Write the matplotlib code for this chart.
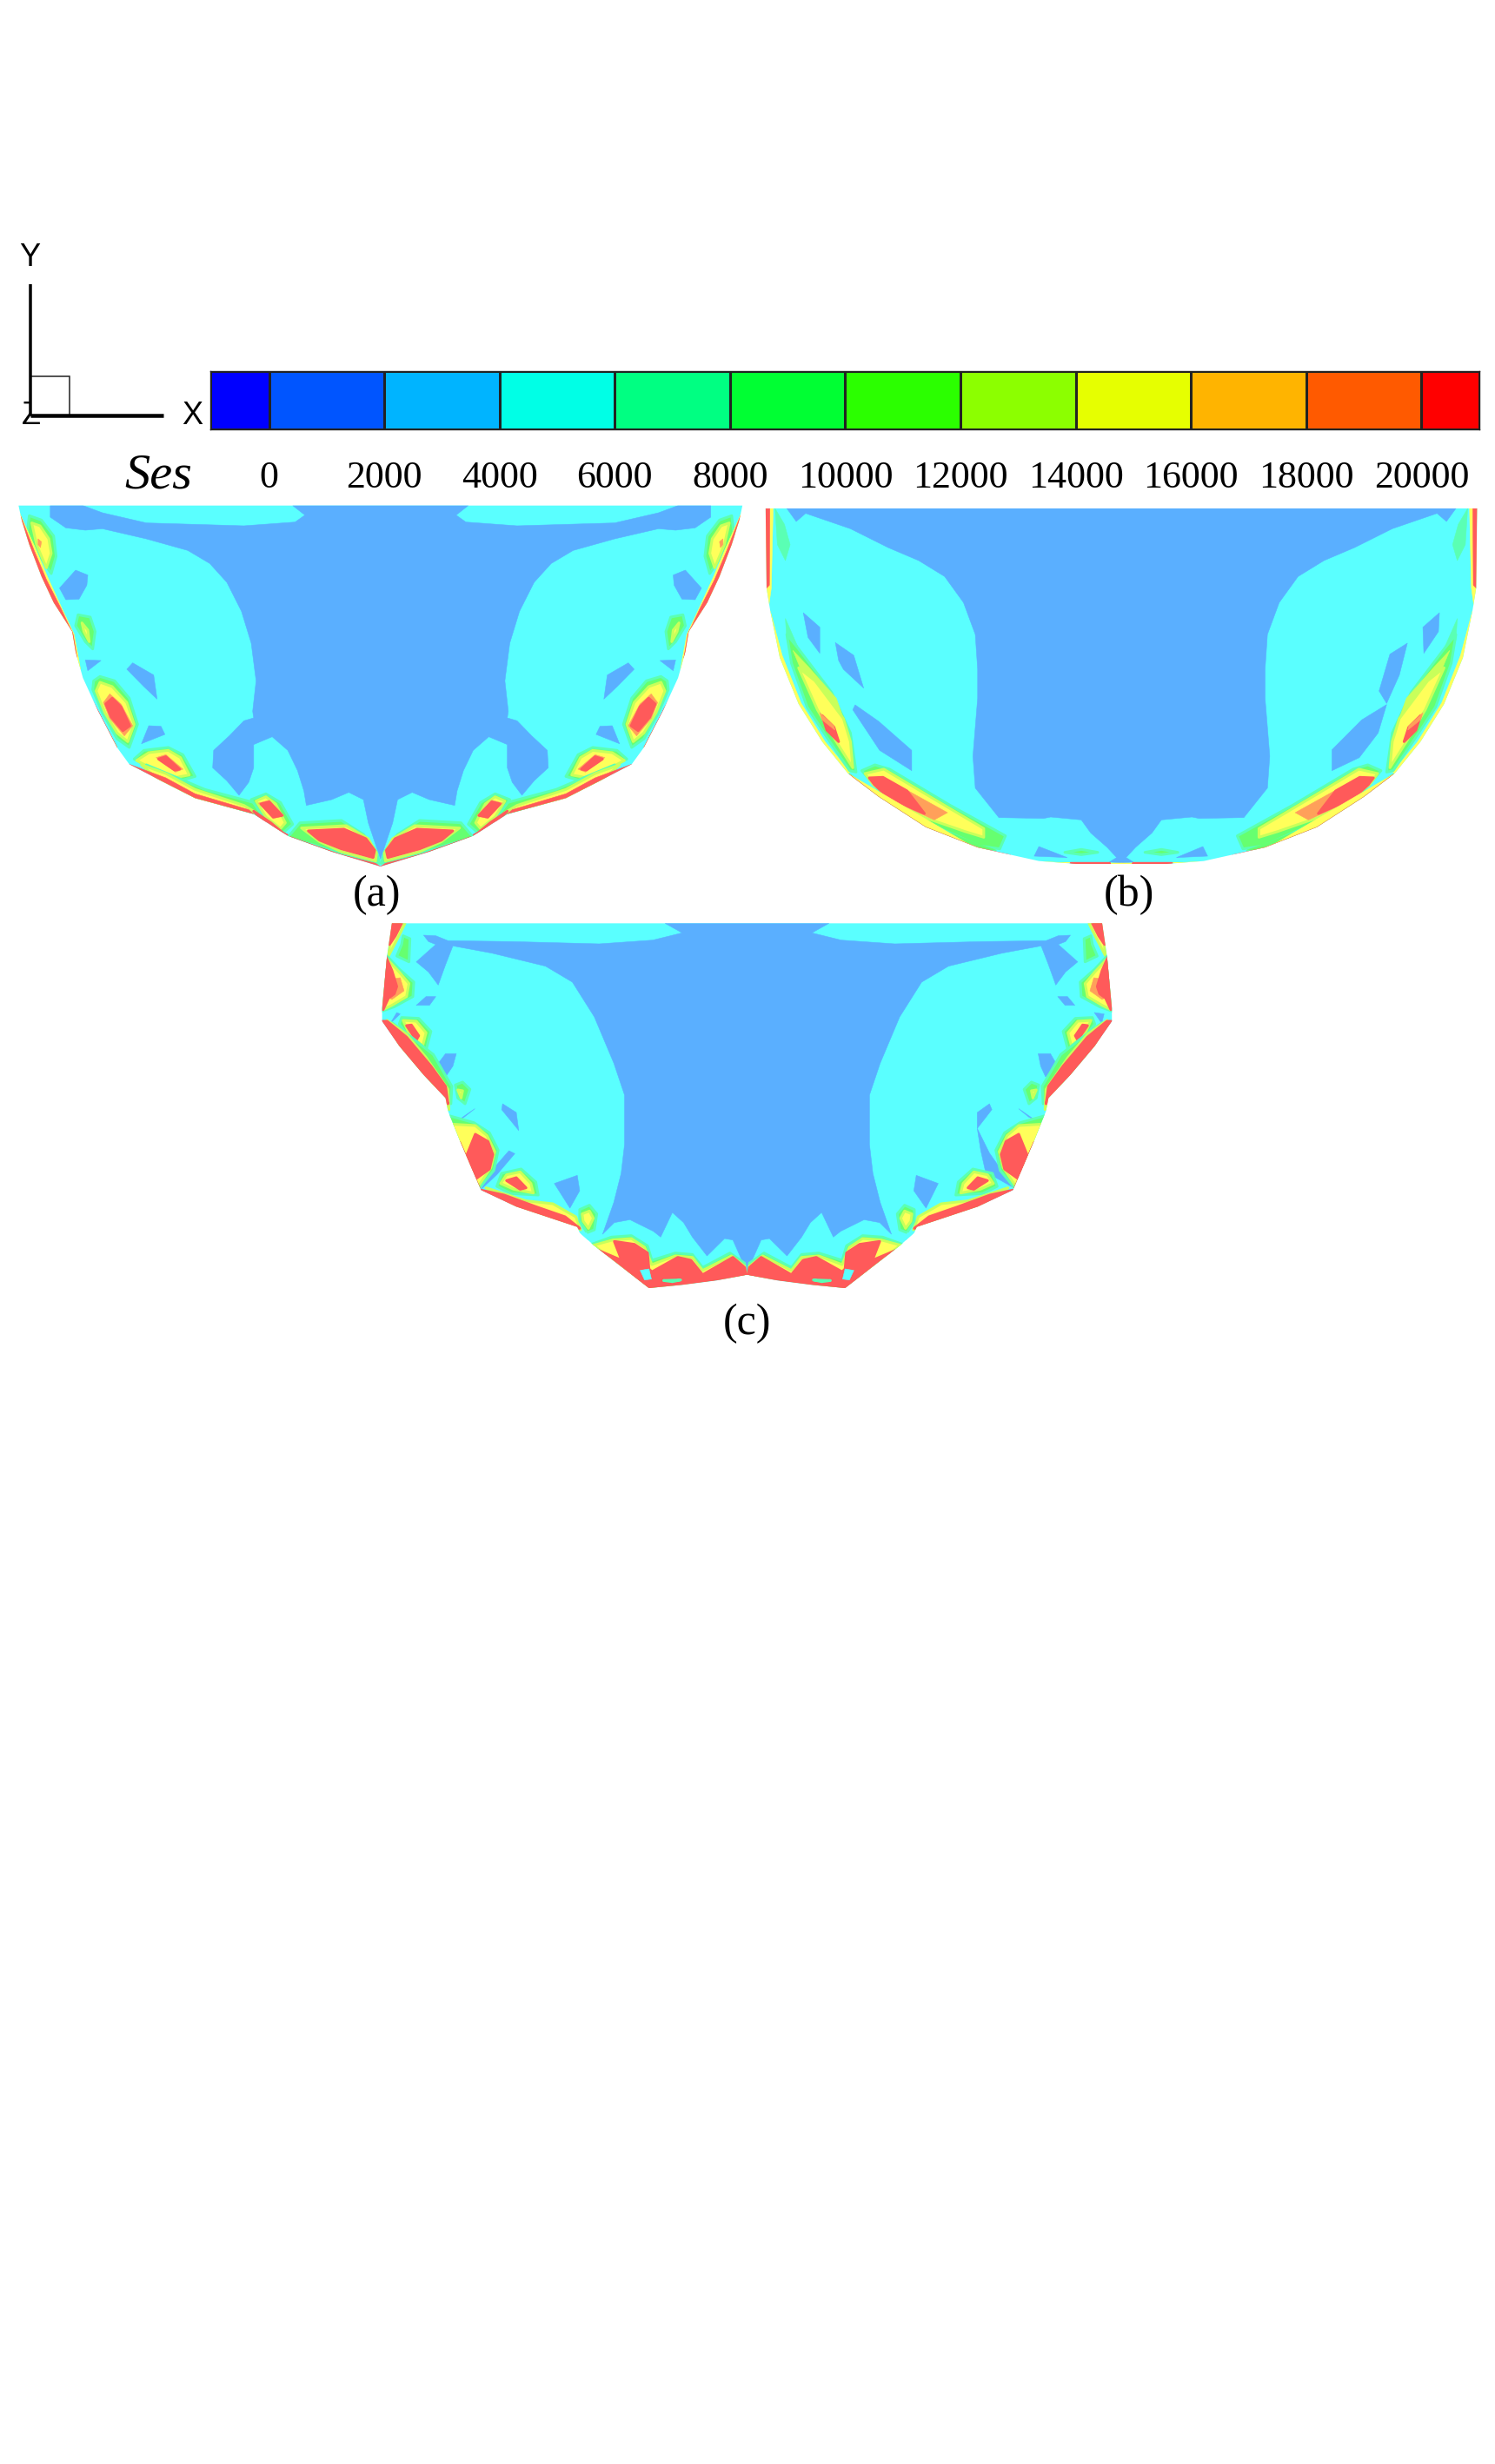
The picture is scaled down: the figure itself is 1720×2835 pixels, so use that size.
import matplotlib
matplotlib.use("Agg")
import matplotlib.pyplot as plt
import numpy as np
from matplotlib.colors import ListedColormap, BoundaryNorm
from matplotlib.patches import Polygon, Rectangle

W, H = 1720, 2835
plt.rcParams['font.family'] = ['Liberation Serif', 'DejaVu Serif']

# ---------- legend data ----------
LEVELS = [-1020, 0, 2000, 4000, 6000, 8000, 10000, 12000, 14000, 16000, 18000, 20000, 21005]
BAR_COLORS = ['#0000FF', '#0055FF', '#00B4FF', '#00FFE6', '#00FF82', '#00FF33',
              '#2BFF00', '#8CFF00', '#E6FF00', '#FFB400', '#FF5A00', '#FF0000']
FIELD_COLORS = ['#5A5AFF', '#5A90FF', '#5AAFFF', '#5AFFFF', '#5AFFB4', '#66FF70',
                '#7DFF5A', '#C8FF5A', '#FFFF5A', '#FFD25A', '#FFA05A', '#FF5A5A']
TICKS = [0, 2000, 4000, 6000, 8000, 10000, 12000, 14000, 16000, 18000, 20000]

# ---------- panel (a): left half, Ses bands in mesh coordinates ----------
A_CENTER = 780
A_OUTLINE = [(780,35),(38,35),(45,90),(60,170),(85,280),(110,370),(148,470),(155,540),(170,630),
             (200,740),(240,870),(265,928),(330,985),(400,1045),(520,1100),(590,1175),(680,1230),(780,1281)]
A_CORE = [(780,35),(600,35),(625,68),(605,92),(500,105),(300,95),(210,60),(170,35),(103,35),(103,75),
          (135,112),(175,120),(210,115),(300,150),(385,190),(430,235),(465,300),(495,400),(515,510),
          (525,640),(518,745),(520,768),(500,778),(470,830),(438,880),(436,940),(465,985),(490,1035),
          (510,990),(520,940),(520,860),(558,833),(590,880),(610,950),(623,1020),(628,1070),(680,1050),
          (715,1025),(745,1050),(755,1130),(780,1255)]
A_POCKETS = [[(155,258),(180,275),(178,310),(162,358),(135,360),(122,320)],
             [(175,568),(207,570),(180,605)],
             [(272,578),(315,620),(322,703),(295,660),(260,600)],
             [(305,795),(330,797),(338,825),(290,857)]]
A_BANDS = [
    (9000, [(60,70),(85,85),(110,140),(115,210),(105,270),(85,220),(55,140)]),
    (15000,[(65,95),(82,105),(100,150),(105,200),(95,250),(75,170)]),
    (19000,[(78,150),(85,160),(83,180),(78,170)]),
    (15000,[(40,60),(72,180),(97,280),(127,390),(152,480),(165,600),(155,600),(148,470),(110,370),(85,280),(60,170)]),
    (21000,[(42,70),(60,170),(85,280),(110,370),(148,470),(155,540),(158,560),(150,480),(125,390),(95,290),(70,190)]),
    (9000, [(160,412),(185,420),(195,470),(190,530),(175,505),(155,450)]),
    (15000,[(168,440),(180,465),(183,505),(172,470)]),
    (9000, [(205,625),(235,640),(265,700),(282,790),(265,870),(240,840),(210,750),(190,670),(192,640)]),
    (15000,[(205,645),(230,660),(260,715),(275,790),(262,850),(240,820),(215,750),(197,675)]),
    (19000,[(225,685),(248,720),(272,795),(255,830),(225,770),(212,715)]),
    (21000,[(230,700),(248,730),(266,795),(252,812),(228,765),(217,720)]),
    (15000,[(178,680),(240,870),(232,862),(192,745)]),
    (21000,[(178,670),(240,870),(200,740)]),
    (9000, [(275,910),(295,880),(345,870),(375,895),(400,970),(370,985),(330,960)]),
    (15000,[(280,915),(305,888),(345,880),(370,905),(388,965),(355,975),(320,950)]),
    (19000,[(320,905),(340,895),(375,945),(360,955)]),
    (21000,[(325,910),(340,902),(368,945),(358,948)]),
    (9000, [(300,930),(350,965),(420,1015),(520,1060),(540,1110),(400,1050),(330,990)]),
    (15000,[(290,930),(340,960),(400,1015),(500,1070),(525,1095),(400,1050),(330,990)]),
    (21000,[(265,928),(330,985),(400,1045),(520,1100),(510,1085),(400,1030),(340,975)]),
    (9000, [(515,1050),(545,1030),(575,1060),(600,1135),(580,1165),(545,1120)]),
    (15000,[(525,1055),(545,1040),(565,1065),(585,1130),(575,1150),(545,1110)]),
    (19000,[(530,1062),(552,1052),(582,1105),(560,1116)]),
    (21000,[(535,1065),(552,1058),(578,1105),(560,1110)]),
    (21000,[(520,1090),(555,1130),(580,1165),(590,1175),(555,1150)]),
    (9000, [(590,1180),(615,1130),(700,1122),(745,1170),(772,1230),(778,1270),(690,1230)]),
    (15000,[(618,1148),(710,1140),(755,1185),(772,1235),(770,1262),(700,1230),(655,1195)]),
    (21000,[(632,1158),(705,1152),(750,1185),(768,1225),(765,1250),(700,1220),(655,1190)]),
    (21000,[(595,1178),(680,1230),(780,1281),(770,1270),(700,1240),(640,1205)]),
]

# ---------- panel (b) ----------
B_CENTER = 775
B_OUTLINE = [(775,45),(20,45),(22,320),(30,400),(50,560),(90,720),(140,850),(195,960),(260,1040),
             (360,1145),(470,1215),(600,1262),(680,1272),(775,1272)]
B_CORE = [(775,45),(65,45),(85,90),(105,62),(200,115),(280,180),(345,225),(400,280),(440,370),(465,480),
          (470,600),(470,700),(460,900),(465,1010),(515,1112),(610,1115),(625,1110),(690,1120),(710,1165),
          (745,1215),(765,1250),(750,1265),(775,1270)]
B_POCKETS_LEFT = [[(100,405),(135,455),(135,545),(110,490)],
                  [(168,508),(207,552),(228,665),(185,600),(175,570)],
                  [(210,723),(260,780),(330,880),(330,950),(262,880),(205,740)],
                  [(600,1212),(660,1250),(590,1245)]]
B_POCKETS_RIGHT = [[(1450,405),(1415,455),(1417,545),(1448,470)],
                   [(1382,510),(1345,548),(1322,675),(1338,718),(1365,620)],
                   [(1338,722),(1285,775),(1222,878),(1222,950),(1280,905),(1320,820)],
                   [(948,1212),(892,1250),(958,1245)]]
B_BANDS = [
    (15000,[(20,45),(36,45),(32,320),(26,390),(22,320)]),
    (21000,[(20,45),(29,45),(28,310),(22,320)]),
    (7000, [(40,45),(60,100),(72,170),(62,225),(45,170)]),
    (15000,[(30,400),(50,560),(90,720),(140,850),(195,960),(199,955),(146,850),(95,716),(55,552)]),
    (7000, [(62,425),(85,510),(100,560),(80,570),(65,500)]),
    (9000, [(65,480),(90,530),(160,680),(200,820),(212,955),(198,950),(150,835),(108,730),(75,580)]),
    (13000,[(78,535),(110,590),(170,700),(196,820),(205,940),(170,850),(130,740)]),
    (15000,[(90,595),(125,640),(185,770),(200,850),(205,940),(170,850),(130,740)]),
    (21000,[(140,760),(165,800),(175,850),(150,810)]),
    (19000,[(135,750),(165,795),(167,810),(140,775)]),
    (9000, [(224,950),(252,930),(283,945),(412,1070),(529,1175),(517,1220),(474,1210),(363,1130),(264,1025)]),
    (15000,[(231,960),(271,945),(400,1070),(483,1150),(483,1180),(443,1160),(354,1110),(249,1000)]),
    (19000,[(240,975),(271,973),(406,1095),(378,1120),(351,1100),(283,1050),(249,1000)]),
    (21000,[(240,975),(269,973),(320,1020),(357,1098),(283,1045),(251,998)]),
    (9000, [(197,960),(262,1030),(365,1135),(475,1205),(510,1225),(470,1222),(360,1155),(260,1050)]),
    (15000,[(197,962),(260,1040),(360,1145),(470,1215),(560,1252),(600,1265),(680,1269),(775,1269),(775,1272),(600,1265),(470,1222)]),
    (21000,[(197,962),(260,1040),(360,1145),(470,1215),(540,1241),(470,1222),(360,1152),(258,1048)]),
    (9000, [(655,1232),(690,1222),(725,1232),(690,1240)]),
    (21000,[(668,1270),(750,1270),(745,1275),(670,1276)]),
]

# ---------- panel (c) ----------
C_CENTER = 783
C_OUTLINE = [(783,37),(55,37),(45,150),(35,330),(35,375),(70,460),(120,560),(165,640),(170,685),(195,790),
             (238,958),(310,1015),(435,1085),(440,1105),(470,1150),(582,1296),(650,1285),(720,1270),(783,1250)]
C_CORE = [(783,37),(615,37),(650,70),(590,95),(480,108),(300,100),(170,97),(145,80),(120,78),(130,100),
          (145,110),(105,170),(130,205),(150,250),(165,180),(180,115),(260,140),(370,185),(425,240),
          (470,360),(510,520),(532,630),(532,800),(525,900),(510,1000),(487,1110),(511,1070),(543,1060),
          (591,1100),(606,1120),(630,1035),(653,1070),(671,1120),(701,1185),(737,1125),(754,1130),(783,1240)]
C_POCKETS_LEFT = [[(125,290),(145,290),(132,320),(105,320)],
                  [(65,345),(72,350),(52,382)],
                  [(165,487),(187,487),(180,530),(165,567),(148,525)],
                  [(282,660),(310,690),(315,752),(280,680)],
                  [(190,718),(225,677),(200,710)],
                  [(295,822),(307,832),(270,905),(238,955),(265,880)],
                  [(435,907),(440,960),(420,1020),(388,935)]]
C_POCKETS_RIGHT = [[(1420,290),(1440,290),(1455,320),(1435,320)],
                   [(1495,345),(1515,350),(1510,382)],
                   [(1380,487),(1405,487),(1418,525),(1395,567),(1385,530)],
                   [(1280,660),(1255,690),(1255,745),(1285,680)],
                   [(1255,745),(1280,830),(1330,950),(1272,895),(1262,820)],
                   [(1340,677),(1375,718),(1360,705)],
                   [(1130,907),(1175,935),(1150,1020),(1125,960)]]
C_BANDS = [
    (9000, [(78,80),(92,90),(90,170),(65,150),(75,110)]),
    (15000,[(55,37),(82,37),(68,85),(48,150)]),
    (21000,[(55,37),(75,37),(62,80),(50,110)]),
    (9000, [(45,150),(70,195),(100,240),(98,290),(60,325),(35,340)]),
    (15000,[(45,160),(70,205),(90,245),(85,290),(55,320),(37,335)]),
    (19000,[(50,230),(72,225),(80,270),(55,300),(45,290)]),
    (21000,[(42,150),(55,200),(65,255),(60,280),(48,295),(37,335)]),
    (9000, [(75,362),(110,365),(135,410),(125,475),(95,440),(70,385)]),
    (15000,[(78,372),(105,375),(125,415),(118,460),(92,425)]),
    (21000,[(85,390),(95,388),(110,425),(105,440)]),
    (9000, [(55,380),(95,430),(140,490),(178,600),(176,660),(120,560),(70,460)]),
    (15000,[(45,372),(85,420),(125,500),(170,610),(172,680),(125,565),(70,460)]),
    (21000,[(35,375),(70,460),(120,560),(165,640),(170,660),(165,600),(135,530),(85,430),(45,375)]),
    (9000, [(185,595),(200,585),(215,610),(205,660),(190,640)]),
    (15000,[(190,612),(200,615),(197,640)]),
    (9000, [(170,700),(223,725),(255,760),(273,820),(264,890),(232,955),(190,800)]),
    (15000,[(175,730),(226,735),(250,770),(266,825),(258,880),(232,945),(205,860)]),
    (21000,[(226,765),(252,790),(262,835),(255,885),(226,920),(208,840)]),
    (21000,[(195,790),(238,958),(226,920),(208,840)]),
    (9000, [(270,945),(280,900),(320,885),(350,930),(355,975),(300,970)]),
    (15000,[(278,935),(290,905),(318,895),(340,935),(345,968),(305,955)]),
    (21000,[(290,925),(310,915),(330,950),(318,955)]),
    (15000,[(248,950),(330,995),(385,1005),(432,1050),(442,1095),(435,1085),(310,1015)]),
    (21000,[(238,958),(310,1015),(435,1085),(440,1090),(410,1050),(350,1015),(285,975)]),
    (9000, [(440,1025),(460,1010),(475,1040),(470,1095),(455,1105),(440,1065)]),
    (15000,[(445,1040),(460,1030),(468,1055),(458,1090),(447,1065)]),
    (9000, [(456,1150),(505,1120),(546,1115),(579,1150),(588,1200),(636,1175),(671,1180),(692,1225),
            (748,1175),(778,1210),(781,1250),(783,1250),(582,1296),(470,1150)]),
    (15000,[(460,1152),(508,1130),(546,1125),(573,1155),(588,1215),(636,1185),(671,1190),(692,1235),
            (751,1185),(778,1220),(781,1250),(783,1250),(582,1296),(470,1150)]),
    (21000,[(463,1155),(526,1200),(511,1135),(552,1145),(579,1175),(582,1230),(588,1240),(641,1190),
            (668,1200),(692,1250),(754,1190),(778,1225),(781,1250),(783,1252),(582,1297)]),
    (5000, [(564,1235),(582,1230),(587,1265),(573,1268)]),
    (5000, [(441,1110),(454,1105),(460,1130),(448,1130)]),
    (9000, [(612,1270),(647,1268),(630,1274)]),
]

cmap = ListedColormap(FIELD_COLORS)
norm = BoundaryNorm(LEVELS, cmap.N)
HALO = {9000: 7000, 15000: 13000, 21000: 21000}


def mirror(verts, center):
    return [(2 * center - x, y) for x, y in verts]


def closed(half, center):
    return list(half) + mirror(half, center)[::-1]


def rect(x0, y0, x1, y1):
    return [x0 / W, 1 - y1 / H, (x1 - x0) / W, (y1 - y0) / H]


def is_thin(verts):
    a = np.array(verts, float)
    b = np.roll(a, -1, axis=0)
    area = abs(np.sum(a[:, 0] * b[:, 1] - b[:, 0] * a[:, 1])) / 2
    perim = np.sum(np.hypot(*(a - b).T))
    return area / perim ** 2 < 0.012


def paint(ax, verts, level, clip):
    halo = level in HALO and not is_thin(verts)
    edge = cmap(norm(HALO[level])) if halo else cmap(norm(level))
    p = Polygon(verts, closed=True, facecolor=cmap(norm(level)), edgecolor=edge,
                linewidth=2.2 if halo else 0.4, joinstyle='round', zorder=2)
    ax.add_patch(p)
    p.set_clip_path(clip)


def panel(box, xmax, ymax, center, outline, core, bands, pockets_left, pockets_right=None):
    ax = fig.add_axes(rect(*box))
    ax.set_xlim(0, xmax)
    ax.set_ylim(ymax, 0)
    ax.axis('off')
    ax.patch.set_alpha(0)
    shape = Polygon(closed(outline, center), closed=True, facecolor=cmap(norm(5000)),
                    edgecolor='none', zorder=1)
    ax.add_patch(shape)
    paint(ax, closed(core, center), 3000, shape)
    right = pockets_right if pockets_right is not None else [mirror(v, center) for v in pockets_left]
    for v in list(pockets_left) + list(right):
        paint(ax, v, 3000, shape)
    for level, v in bands:
        paint(ax, v, level, shape)
        paint(ax, mirror(v, center), level, shape)
    return ax


fig = plt.figure(figsize=(W / 100, H / 100), dpi=100, facecolor='white')

panel((0, 570, 880, 1030), 1568, 1380, A_CENTER, A_OUTLINE, A_CORE, A_BANDS, A_POCKETS)
panel((870, 570, 1720, 1030), 1568, 1380, B_CENTER, B_OUTLINE, B_CORE, B_BANDS, B_POCKETS_LEFT, B_POCKETS_RIGHT)
panel((420, 1050, 1300, 1550), 1568, 1500, C_CENTER, C_OUTLINE, C_CORE, C_BANDS, C_POCKETS_LEFT, C_POCKETS_RIGHT)

# colour bar
cax = fig.add_axes(rect(242, 427, 1702, 494))
cax.pcolormesh(LEVELS, [0, 1], np.array([[(a + b) / 2 for a, b in zip(LEVELS[:-1], LEVELS[1:])]]),
               cmap=ListedColormap(BAR_COLORS), norm=BoundaryNorm(LEVELS, len(BAR_COLORS)),
               edgecolors='#222222', linewidth=1.0)
cax.set_xlim(LEVELS[0], LEVELS[-1])
cax.set_yticks([])
cax.set_xticks(TICKS)
cax.set_xticklabels([str(t) for t in TICKS], fontsize=31.7)
cax.tick_params(axis='x', length=0, pad=26)
for s in cax.spines.values():
    s.set_linewidth(1.0)
    s.set_color('#222222')

PX = 0.72
fig.text(182 / W, 1 - 562 / H, 'Ses', fontsize=42, style='italic', ha='center', va='baseline')
for lab, x, y in [('(a)', 434, 1030), ('(b)', 1299, 1030), ('(c)', 859, 1523)]:
    fig.text(x / W, 1 - y / H, lab, fontsize=36, ha='center', va='center')

# axis triad drawn in a pixel-scaled overlay
tri = fig.add_axes([0, 0, 1, 1])
tri.set_xlim(0, W)
tri.set_ylim(H, 0)
tri.axis('off')
tri.patch.set_alpha(0)
sans = ['Liberation Sans', 'DejaVu Sans']
tri.text(36, 478, 'Z', family=sans, fontsize=26, ha='center', va='center', zorder=1)
tri.add_patch(Rectangle((34.5, 433), 45.5, 45, facecolor='white', edgecolor='#222222', linewidth=1.1, zorder=2))
tri.plot([34.5, 34.5], [327, 478], color='black', lw=3.5 * PX, solid_capstyle='butt', zorder=3)
tri.plot([34.5, 188], [478, 478], color='black', lw=4.5 * PX, solid_capstyle='butt', zorder=3)
tri.text(34.5, 296, 'Y', family=sans, fontsize=26, ha='center', va='center')
tri.text(221, 479, 'X', family=sans, fontsize=26, ha='center', va='center')

fig.savefig('out.png', dpi=100, facecolor='white')
